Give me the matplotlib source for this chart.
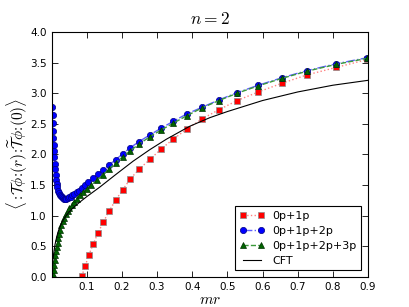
import matplotlib
matplotlib.use("Agg")
import matplotlib.pyplot as plt

# mr grid shared by all truncation levels at larger distances
mr_tail = [0.147, 0.163, 0.182, 0.202, 0.224, 0.249, 0.280, 0.312, 0.346,
           0.384, 0.428, 0.476, 0.528, 0.588, 0.654, 0.727, 0.809, 0.898]

# 0p+1p
mr_1p = [0.0856, 0.096, 0.106, 0.119, 0.132] + mr_tail
corr_1p = [0.01, 0.18, 0.36, 0.54, 0.72,
           0.89, 1.07, 1.25, 1.42, 1.60, 1.76, 1.92, 2.09, 2.25,
           2.41, 2.58, 2.73, 2.88, 3.02, 3.16, 3.30, 3.42, 3.55]

# 0p+1p+2p
mr_2p = [0.0023, 0.0030, 0.0037, 0.0044, 0.0052, 0.0060, 0.0069, 0.0079,
         0.0090, 0.0102, 0.0116, 0.0131, 0.0148, 0.0166, 0.0186, 0.0208,
         0.0232, 0.0258, 0.0286, 0.0316, 0.0348, 0.0382, 0.0418, 0.0456,
         0.0496, 0.0540, 0.0590, 0.0645, 0.0710, 0.0780, 0.0856, 0.0950,
         0.1050, 0.1190, 0.1330] + mr_tail
corr_2p = [2.77, 2.64, 2.51, 2.39, 2.27, 2.16, 2.05, 1.95,
           1.85, 1.76, 1.67, 1.59, 1.52, 1.46, 1.41, 1.37,
           1.34, 1.32, 1.30, 1.29, 1.28, 1.28, 1.28, 1.29,
           1.30, 1.31, 1.33, 1.35, 1.38, 1.41, 1.45, 1.50,
           1.55, 1.61, 1.68,
           1.75, 1.83, 1.91, 2.01, 2.11, 2.21, 2.32, 2.43, 2.54,
           2.66, 2.77, 2.89, 3.01, 3.13, 3.25, 3.37, 3.48, 3.58]

# 0p+1p+2p+3p
mr_3p = [0.0048, 0.0062, 0.0077, 0.0093, 0.0110, 0.0128, 0.0148, 0.0170,
         0.0194, 0.0220, 0.0250, 0.0283, 0.0320, 0.0360, 0.0405, 0.0455,
         0.0510, 0.0570, 0.0640, 0.0715, 0.0800, 0.0900, 0.1010, 0.1130,
         0.1300] + mr_tail
corr_3p = [0.04, 0.11, 0.19, 0.27, 0.35, 0.42, 0.49, 0.56,
           0.63, 0.70, 0.77, 0.84, 0.91, 0.97, 1.03, 1.08,
           1.13, 1.18, 1.23, 1.28, 1.33, 1.38, 1.44, 1.50,
           1.58,
           1.67, 1.76, 1.86, 1.96, 2.06, 2.17, 2.29, 2.40, 2.51,
           2.63, 2.76, 2.88, 3.00, 3.12, 3.24, 3.36, 3.47, 3.57]

# CFT curve
mr_cft = [0.0015, 0.0023, 0.004, 0.007, 0.010, 0.015, 0.020, 0.030, 0.040,
          0.050, 0.060, 0.080, 0.100, 0.138, 0.180, 0.232, 0.280, 0.327,
          0.393, 0.450, 0.500, 0.600, 0.700, 0.800, 0.900]
corr_cft = [0.0, 0.16, 0.28, 0.42, 0.53, 0.66, 0.76, 0.90, 0.99,
            1.06, 1.12, 1.22, 1.31, 1.47, 1.66, 1.89, 2.08, 2.25,
            2.46, 2.60, 2.70, 2.88, 3.02, 3.13, 3.21]

plt.rcParams['font.size'] = 7.5
plt.rcParams['mathtext.fontset'] = 'cm'

fig = plt.figure(figsize=(4.09, 3.07), dpi=100)
ax = fig.add_axes([0.126, 0.098, 0.774, 0.798])

ax.plot(mr_1p, corr_1p, ls=':', color='#ff8080', lw=1, marker='s', ms=4.3,
        mfc='r', mec='0.55', mew=0.5, label='0p+1p')
ax.plot(mr_2p, corr_2p, ls='-.', color='#6060ff', lw=1, marker='o', ms=4.5,
        mfc='b', mec='#000080', mew=0.5, label='0p+1p+2p')
ax.plot(mr_3p, corr_3p, ls='--', color='#3a9a3a', lw=1, marker='^', ms=4.5,
        mfc='#006400', mec='#003000', mew=0.5, label='0p+1p+2p+3p')
ax.plot(mr_cft, corr_cft, '-', color='k', lw=0.8, label='CFT')

ax.set_xlim(0, 0.9)
ax.set_ylim(0, 4.0)
ax.set_xticks([0.1, 0.2, 0.3, 0.4, 0.5, 0.6, 0.7, 0.8, 0.9])
ax.set_yticks([0.0, 0.5, 1.0, 1.5, 2.0, 2.5, 3.0, 3.5, 4.0])
ax.tick_params(direction='in', top=True, right=True, length=4, width=0.6)
for s in ax.spines.values():
    s.set_linewidth(0.8)

ax.set_title(r'$n=2$', fontsize=12.5, pad=6)
ax.set_xlabel(r'$mr$', fontsize=11, labelpad=0)
ax.set_ylabel(r'$\left\langle :\!\mathcal{T}\phi\!:\!(r)\!:\!\widetilde{\mathcal{T}}\phi\!:\!(0)\right\rangle$',
              fontsize=11, labelpad=1)

leg = ax.legend(loc='lower right', numpoints=2, fancybox=False,
                edgecolor='k', framealpha=1, fontsize=8, labelspacing=0.45,
                handlelength=2.2, borderaxespad=0.6)
leg.get_frame().set_linewidth(0.8)

fig.savefig('out.png', dpi=100)
